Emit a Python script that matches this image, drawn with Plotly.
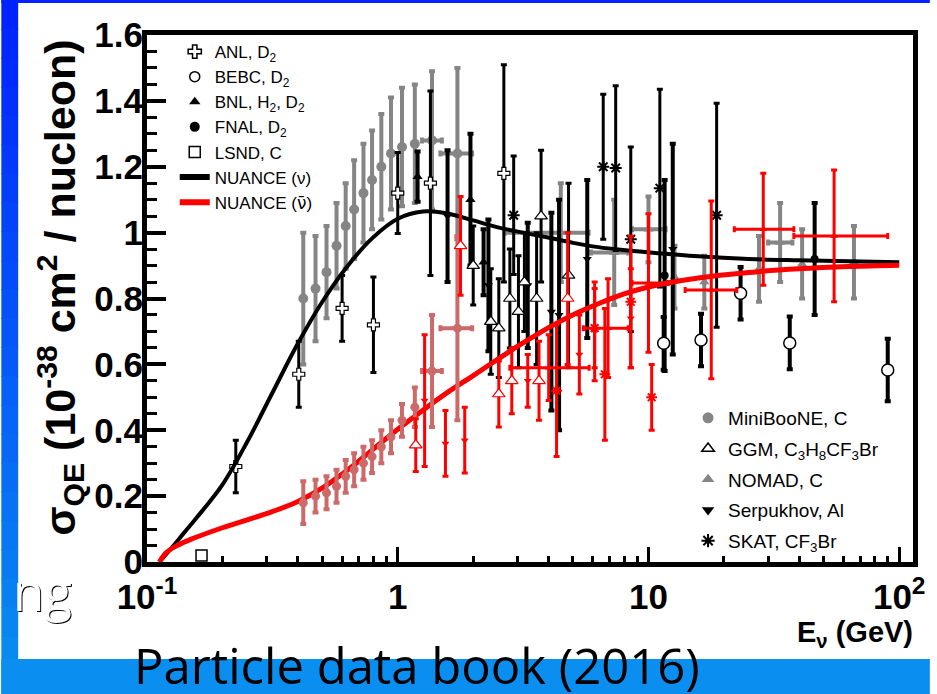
import plotly.graph_objects as go

# ---------------- tick labels ----------------
x_tickvals = [0.1, 1, 10, 100]
x_ticktext = ["10<sup>-1</sup>", "1", "10", "10<sup>2</sup>"]
x_minorvals = [0.2, 0.3, 0.4, 0.5, 0.6, 0.7, 0.8, 0.9, 2, 3, 4, 5, 6, 7, 8, 9, 20, 30, 40, 50, 60, 70, 80, 90]
y_tickvals = [0, 0.2, 0.4, 0.6, 0.8, 1.0, 1.2, 1.4, 1.6]
y_ticktext = ["0", "0.2", "0.4", "0.6", "0.8", "1", "1.2", "1.4", "1.6"]

# ---------------- NUANCE predictions ----------------
nuance_nu_E = [0.112, 0.126, 0.141, 0.158, 0.2, 0.251, 0.316, 0.398, 0.501, 0.631, 0.794, 1.0, 1.26, 1.58,
               2.0, 2.51, 3.16, 3.98, 5.01, 6.31, 7.94, 10, 15.8, 25.1, 39.8, 63.1, 100]
nuance_nu_s = [0.0, 0.045, 0.09, 0.135, 0.235, 0.365, 0.513, 0.661, 0.791, 0.899, 0.984, 1.042, 1.064, 1.058,
               1.037, 1.016, 1.0, 0.985, 0.969, 0.956, 0.947, 0.94, 0.928, 0.92, 0.916, 0.913, 0.91]
nuance_nb_E = [0.112, 0.12, 0.132, 0.151, 0.2, 0.251, 0.316, 0.398, 0.501, 0.631, 0.794, 1.0, 1.26, 1.58,
               2.0, 2.51, 3.16, 3.98, 5.01, 6.31, 7.94, 10, 15.8, 25.1, 39.8, 63.1, 100]
nuance_nb_s = [0.0, 0.03, 0.05, 0.07, 0.104, 0.128, 0.153, 0.183, 0.225, 0.279, 0.341, 0.403, 0.461, 0.515,
               0.566, 0.616, 0.665, 0.711, 0.751, 0.784, 0.813, 0.835, 0.862, 0.879, 0.89, 0.897, 0.901]

# ---------------- data sets ----------------
anl_E = [0.226, 0.403, 0.60, 0.80, 1.0, 1.35, 2.65]
anl_s = [0.29, 0.57, 0.77, 0.72, 1.12, 1.15, 1.18]
anl_err = [0.08, 0.10, 0.10, 0.145, 0.123, 0.28, 0.33]

bebc_E = [11.5, 16.2, 23.3, 36.6, 90]
bebc_s = [0.664, 0.674, 0.816, 0.665, 0.583]
bebc_err = [0.08, 0.08, 0.08, 0.08, 0.095]

bnl_E = [1.2, 1.95, 2.2]
bnl_s = [1.17, 1.10, 0.91]
bnl_err = [0.076, 0.2, 0.1]

fnal_E = [11.6, 46]
fnal_s = [0.87, 0.92]
fnal_err = [0.29, 0.17]

lsnd_E = [0.165]
lsnd_s = [0.02]

mb_nu_E = [0.42, 0.47, 0.52, 0.57, 0.62, 0.67, 0.73, 0.79, 0.86, 0.94, 1.04, 1.17, 1.37, 1.73]
mb_nu_s = [0.80, 0.83, 0.88, 0.96, 1.02, 1.07, 1.12, 1.16, 1.20, 1.24, 1.26, 1.27, 1.28, 1.24]
mb_nu_err = [0.20, 0.16, 0.14, 0.13, 0.13, 0.15, 0.15, 0.15, 0.16, 0.17, 0.18, 0.18, 0.21, 0.26]
mb_xminus = [0, 0, 0, 0, 0, 0, 0, 0, 0, 0, 0, 0, 0.12, 0.25]
mb_xplus = [0, 0, 0, 0, 0, 0, 0, 0, 0, 0, 0, 0, 0.13, 0.25]

mb_nb_E = [0.42, 0.47, 0.52, 0.57, 0.62, 0.67, 0.73, 0.79, 0.86, 0.94, 1.04, 1.17, 1.37, 1.73]
mb_nb_s = [0.18, 0.20, 0.21, 0.23, 0.26, 0.28, 0.30, 0.32, 0.35, 0.38, 0.43, 0.47, 0.58, 0.71]
mb_nb_err = [0.065, 0.05, 0.05, 0.05, 0.05, 0.05, 0.05, 0.05, 0.05, 0.05, 0.05, 0.06, 0.17, 0.28]

ggm_nu_E = [2.0, 2.35, 2.53, 2.8, 3.03, 3.2, 3.58, 3.73, 4.8]
ggm_nu_s = [0.90, 0.73, 0.71, 0.80, 0.76, 0.85, 0.80, 1.05, 0.87]
ggm_nu_err = [0.12, 0.16, 0.15, 0.15, 0.17, 0.15, 0.2, 0.2, 0.28]

ggm_nb_E = [1.18, 1.78, 2.53, 2.85, 3.66, 4.76]
ggm_nb_s = [0.355, 0.96, 0.51, 0.55, 0.55, 0.80]
ggm_nb_err = [0.08, 0.15, 0.1, 0.1, 0.12, 0.2]

nomad_nu_E = [4.47, 7.3, 10, 12.7, 16.7, 27.6, 33.5, 41, 66]
nomad_nu_s = [1.0, 0.94, 1.01, 0.865, 0.85, 0.89, 0.97, 0.905, 0.91]
nomad_nu_err = [0.15, 0.16, 0.1, 0.095, 0.08, 0.1, 0.12, 0.105, 0.11]
nomad_nu_xminus = [1.8, 1.4, 1.4, 0, 0, 0, 3.5, 0, 0]
nomad_nu_xplus = [1.3, 1.0, 1.7, 0, 0, 0, 4.0, 0, 0]

nomad_nb_E = [4.0, 6.9, 10.0, 17.8, 28.7, 55]
nomad_nb_s = [0.59, 0.71, 0.847, 0.826, 1.01, 0.99]
nomad_nb_err = [0.1, 0.15, 0.21, 0.27, 0.17, 0.2]
nomad_nb_xminus = [1.2, 1.4, 1.4, 3.8, 6.7, 17]
nomad_nb_xplus = [1.8, 1.4, 2.0, 4.7, 9.3, 35]

skat_nu_E = [2.9, 6.6, 7.4, 8.5, 11.1, 18.7]
skat_nu_s = [1.053, 1.2, 1.196, 0.98, 1.135, 1.053]
skat_nu_err = [0.18, 0.22, 0.25, 0.28, 0.3, 0.34]

skat_nb_E = [4.3, 6.1, 6.7, 8.5, 10.3]
skat_nb_s = [0.52, 0.71, 0.57, 0.79, 0.50]
skat_nb_err = [0.2, 0.12, 0.2, 0.2, 0.1]

serp_nu_E = [1.58, 2.3, 3.3, 4.1, 4.4, 5.7, 12.5]
serp_nu_s = [1.05, 0.84, 0.84, 0.76, 0.75, 0.92, 0.95]
serp_nu_err = [0.2, 0.2, 0.19, 0.3, 0.35, 0.24, 0.32]

serp_nb_E = [1.28, 1.55, 1.85, 3.3, 5.3, 6.1, 8.5]
serp_nb_s = [0.49, 0.36, 0.37, 0.55, 0.63, 0.70, 0.74]
serp_nb_err = [0.2, 0.1, 0.1, 0.08, 0.12, 0.15, 0.15]

# ---------------- styling ----------------
BLACK = "#000000"
GRAY = "#858585"
ROSY = "#cc6a6a"
RED = "#ff0000"
FONT = "Liberation Sans, Arial, sans-serif"

W, H = 937, 694
L, R, T, B = 147, 17, 35, 132


def px(x):
    return (x - L) / (W - L - R)


def py(y):
    return (H - B - y) / (H - T - B)


fig = go.Figure()


def data_trace(E, s, err, color, symbol, size, mcolor, lcolor=None, lwidth=0,
               thick=3, xm=None, xp=None):
    kw = {}
    if xm is not None:
        kw["error_x"] = dict(type="data", symmetric=False, array=xp, arrayminus=xm,
                             color=color, thickness=thick, width=3)
    fig.add_trace(go.Scatter(
        x=E, y=s, mode="markers", showlegend=False, cliponaxis=False,
        marker=dict(symbol=symbol, size=size, color=mcolor,
                    line=dict(color=lcolor or mcolor, width=lwidth)),
        error_y=dict(type="data", array=err, color=color, thickness=thick, width=3),
        **kw))


# gray MiniBooNE nu
data_trace(mb_nu_E, mb_nu_s, mb_nu_err, GRAY, "circle", 10, GRAY, thick=4,
           xm=mb_xminus, xp=mb_xplus)
# NOMAD nu
data_trace(nomad_nu_E, nomad_nu_s, nomad_nu_err, GRAY, "triangle-up", 9, GRAY, thick=4,
           xm=nomad_nu_xminus, xp=nomad_nu_xplus)
# black nu data
data_trace(serp_nu_E, serp_nu_s, serp_nu_err, BLACK, "triangle-down", 8, BLACK, thick=4)
data_trace(skat_nu_E, skat_nu_s, skat_nu_err, BLACK, "asterisk-open", 10, BLACK, BLACK, 2, thick=3)
data_trace(fnal_E, fnal_s, fnal_err, BLACK, "circle", 8, BLACK, thick=4)
data_trace(bnl_E, bnl_s, bnl_err, BLACK, "triangle-up", 9, BLACK, thick=4)
data_trace(ggm_nu_E, ggm_nu_s, ggm_nu_err, BLACK, "triangle-up", 11, "white", BLACK, 1.2, thick=3)
data_trace(anl_E, anl_s, anl_err, BLACK, "cross", 10, "white", BLACK, 1.2, thick=3)
data_trace(bebc_E, bebc_s, bebc_err, BLACK, "circle", 12, "white", BLACK, 1.5, thick=4)

# NUANCE nu curve
fig.add_trace(go.Scatter(x=nuance_nu_E, y=nuance_nu_s, mode="lines", showlegend=False,
                         line=dict(color=BLACK, width=4, shape="spline", smoothing=1.0)))
# NUANCE anti-nu curve
fig.add_trace(go.Scatter(x=nuance_nb_E, y=nuance_nb_s, mode="lines", showlegend=False,
                         line=dict(color=RED, width=5, shape="spline", smoothing=1.0)))

# anti-nu data
data_trace(mb_nb_E, mb_nb_s, mb_nb_err, ROSY, "circle", 9, ROSY, thick=4,
           xm=mb_xminus, xp=mb_xplus)
data_trace(serp_nb_E, serp_nb_s, serp_nb_err, RED, "triangle-down", 7, RED, thick=3)
data_trace(skat_nb_E, skat_nb_s, skat_nb_err, RED, "asterisk-open", 9, RED, RED, 2, thick=3)
data_trace(nomad_nb_E, nomad_nb_s, nomad_nb_err, RED, "triangle-up", 7, RED, thick=3,
           xm=nomad_nb_xminus, xp=nomad_nb_xplus)
data_trace(ggm_nb_E, ggm_nb_s, ggm_nb_err, RED, "triangle-up", 11, "white", RED, 1.2, thick=3)
data_trace(lsnd_E, lsnd_s, None, BLACK, "square", 11, "white", BLACK, 1.5)

# ---------------- legends (legend-only entries) ----------------
NUBAR = '<span style="font-family:DejaVu Sans">ν̄</span>'
leg1 = [
    ("ANL, D<sub>2</sub>", dict(symbol="cross", size=11, color="white", line=dict(color=BLACK, width=1.5)), None),
    ("BEBC, D<sub>2</sub>", dict(symbol="circle", size=10, color="white", line=dict(color=BLACK, width=1.5)), None),
    ("BNL, H<sub>2</sub>, D<sub>2</sub>", dict(symbol="triangle-up", size=10, color=BLACK), None),
    ("FNAL, D<sub>2</sub>", dict(symbol="circle", size=10, color=BLACK), None),
    ("LSND, C", dict(symbol="square", size=11, color="white", line=dict(color=BLACK, width=1.5)), None),
    ("NUANCE (ν)", None, BLACK),
    ("NUANCE (" + NUBAR + ")", None, RED),
]
for name, mk, lc in leg1:
    if mk is not None:
        fig.add_trace(go.Scatter(x=[None], y=[None], mode="markers", name=name, marker=mk,
                                 legend="legend", legendgroup=name))
    else:
        fig.add_trace(go.Scatter(x=[None], y=[None], mode="lines", name=name,
                                 line=dict(color=lc, width=6), legend="legend", legendgroup=name))

leg2 = [
    ("MiniBooNE, C", dict(symbol="circle", size=11, color=GRAY)),
    ("GGM, C<sub>3</sub>H<sub>8</sub>CF<sub>3</sub>Br", dict(symbol="triangle-up", size=11, color="white", line=dict(color=BLACK, width=1.5))),
    ("NOMAD, C", dict(symbol="triangle-up", size=11, color=GRAY)),
    ("Serpukhov, Al", dict(symbol="triangle-down", size=11, color=BLACK)),
    ("SKAT, CF<sub>3</sub>Br", dict(symbol="asterisk-open", size=11, color=BLACK, line=dict(color=BLACK, width=2))),
]
for name, mk in leg2:
    fig.add_trace(go.Scatter(x=[None], y=[None], mode="markers", name=name, marker=mk,
                             legend="legend2", legendgroup=name))

# ---------------- background shapes ----------------
shapes = []
NSEG = 24
top_rgb = (0, 34, 255)
bot_rgb = (10, 142, 240)
for i in range(NSEG):
    t = i / (NSEG - 1)
    c = tuple(int(round(top_rgb[k] + (bot_rgb[k] - top_rgb[k]) * t)) for k in range(3))
    y0 = H * i / NSEG
    y1 = H * (i + 1) / NSEG + 1
    shapes.append(dict(type="rect", xref="paper", yref="paper", x0=px(0), x1=px(17),
                       y0=py(y1), y1=py(y0), fillcolor="rgb(%d,%d,%d)" % c, line=dict(width=0),
                       layer="below"))
shapes.append(dict(type="rect", xref="paper", yref="paper", x0=px(0), x1=px(W),
                   y0=py(3), y1=py(0), fillcolor="rgb(0,34,255)", line=dict(width=0), layer="below"))
shapes.append(dict(type="rect", xref="paper", yref="paper", x0=px(0), x1=px(W),
                   y0=py(H), y1=py(659), fillcolor="rgb(10,142,240)", line=dict(width=0), layer="below"))

annotations = [
    dict(text="σ<sub>QE</sub> (10<sup>-38</sup> cm<sup>2</sup> / nucleon)", xref="paper", yref="paper",
         x=px(59), y=py(288), textangle=-90, showarrow=False, xanchor="center", yanchor="middle",
         font=dict(family=FONT, size=43, color=BLACK, weight="bold")),
    dict(text="<b>E</b><sub>ν</sub> (GeV)", xref="paper", yref="paper",
         x=px(922), y=py(634), showarrow=False, xanchor="right", yanchor="middle",
         font=dict(family=FONT, size=29, color=BLACK, weight="bold")),
    dict(text="ng", xref="paper", yref="paper", x=px(73), y=py(591), showarrow=False,
         xanchor="right", yanchor="middle",
         font=dict(family="Open Sans", size=51, color="white", shadow="1px 1px 0px #000")),
    dict(text="Particle data book (2016)", xref="paper", yref="paper", x=px(132), y=py(665),
         showarrow=False, xanchor="left", yanchor="middle",
         font=dict(family="Open Sans", size=49, color=BLACK)),
]

fig.update_layout(
    width=W, height=H,
    margin=dict(l=L, r=R, t=T, b=B),
    paper_bgcolor="white", plot_bgcolor="white",
    shapes=shapes, annotations=annotations,
    font=dict(family=FONT, color=BLACK),
    legend=dict(x=px(175), y=py(34), xanchor="left", yanchor="top", bgcolor="rgba(0,0,0,0)",
                font=dict(family=FONT, size=17, color=BLACK), traceorder="grouped",
                tracegroupgap=0, itemsizing="trace"),
    legend2=dict(x=px(693), y=py(399), xanchor="left", yanchor="top", bgcolor="rgba(0,0,0,0)",
                 font=dict(family=FONT, size=19, color=BLACK), traceorder="grouped",
                 tracegroupgap=3, itemsizing="trace"),
    xaxis=dict(type="log", range=[-1, 2.055], showgrid=False, zeroline=False,
               showline=True, linecolor=BLACK, linewidth=5, mirror=True,
               tickmode="array", tickvals=x_tickvals, ticktext=x_ticktext,
               ticks="inside", ticklen=15, tickwidth=3, tickcolor=BLACK,
               tickfont=dict(family=FONT, size=35, color=BLACK, weight="bold"),
               ticklabelstandoff=0,
               minor=dict(tickmode="array", tickvals=x_minorvals, ticks="inside",
                          ticklen=6, tickwidth=3, tickcolor=BLACK, showgrid=False)),
    yaxis=dict(range=[0, 1.6], showgrid=False, zeroline=False,
               showline=True, linecolor=BLACK, linewidth=5, mirror=True,
               tickmode="array", tickvals=y_tickvals, ticktext=y_ticktext,
               ticks="inside", ticklen=19, tickwidth=4, tickcolor=BLACK,
               tickfont=dict(family=FONT, size=35, color=BLACK, weight="bold"),
               ticklabelstandoff=-8,
               minor=dict(dtick=0.05, ticks="inside", ticklen=10, tickwidth=3,
                          tickcolor=BLACK, showgrid=False)),
)

fig.write_html("out.html")
